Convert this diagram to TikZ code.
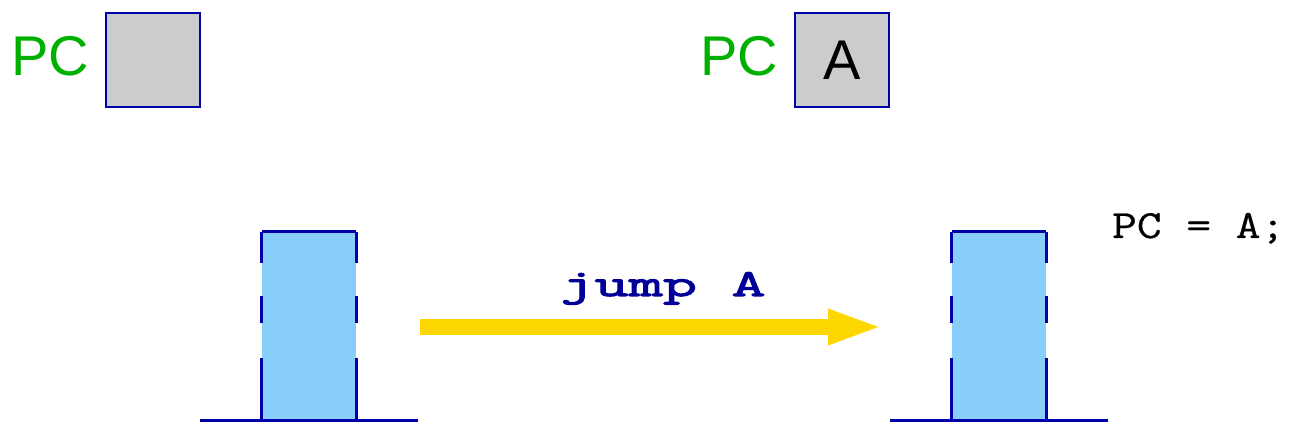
\documentclass[tikz,border=0pt]{standalone}
\usepackage{fontspec}
\setmainfont{Liberation Sans}
\newfontfamily\monojump{Latin Modern Mono}[FakeStretch=1.75, FakeBold=3]
\newfontfamily\monocode{Latin Modern Mono}[FakeStretch=1.2, FakeBold=0.6]
\usetikzlibrary{arrows.meta,calc}
\definecolor{pcgreen}{RGB}{0,176,0}
\definecolor{bordblue}{RGB}{0,0,170}
\definecolor{jumpblue}{RGB}{0,0,153}
\definecolor{stackblue}{RGB}{135,206,250}
\definecolor{boxgray}{RGB}{204,204,204}
\definecolor{arrowgold}{RGB}{255,215,0}
\tikzset{
  regbox/.style={draw=bordblue, fill=boxgray, line width=2.8pt, minimum width=94pt, minimum height=94pt, inner sep=0pt, font=\fontsize{56}{60}\selectfont},
  pclabel/.style={text=pcgreen, anchor=base east, inner sep=0pt, font=\fontsize{56}{60}\selectfont},
  stackbody/.style={fill=stackblue, minimum width=94pt, minimum height=188pt, inner sep=0pt},
  edge/.style={draw=bordblue, line width=2.8pt},
  bigarrow/.style={draw=arrowgold, line width=16pt, -{Triangle[length=55pt,width=32pt]}},
}
\begin{document}
\begin{tikzpicture}[x=1pt,y=-1pt]
\useasboundingbox (0,0) rectangle (1291,435);
% registers
\node[regbox] (reg1) at (153,60) {};
\node[pclabel] (pc1) at (89,76) {PC};
\node[regbox] (reg2) at (842,60) {A};
\node[pclabel] (pc2) at (778,76) {PC};
% stacks
\foreach \n/\x in {s1/309, s2/999} {
  \node[stackbody] (\n) at (\x,326) {};
  \draw[edge] (\n.north west) -- (\n.north east);
  \draw[edge] ($(\n.south west)+(-62,0)$) -- ($(\n.south east)+(62,0)$);
  \foreach \c in {north west, north east} {
    \draw[edge] (\n.\c) -- ++(0,31);
    \draw[edge] (\n.\c) ++(0,64) -- ++(0,27);
    \draw[edge] (\n.\c) ++(0,126) -- ++(0,62);
  }
}
% arrow
\coordinate (a0) at (420,327);
\coordinate (a1) at (883,327);
\draw[bigarrow] (a0) -- (a1);
\node[text=jumpblue, anchor=base, inner sep=0pt, font=\monojump\fontsize{38}{42}\selectfont] (jmp) at (663,296) {jump A};
\node[anchor=base west, inner sep=0pt, font=\monocode\fontsize{40}{44}\selectfont] (code) at (1112,238) {PC = A;};
\end{tikzpicture}
\end{document}
